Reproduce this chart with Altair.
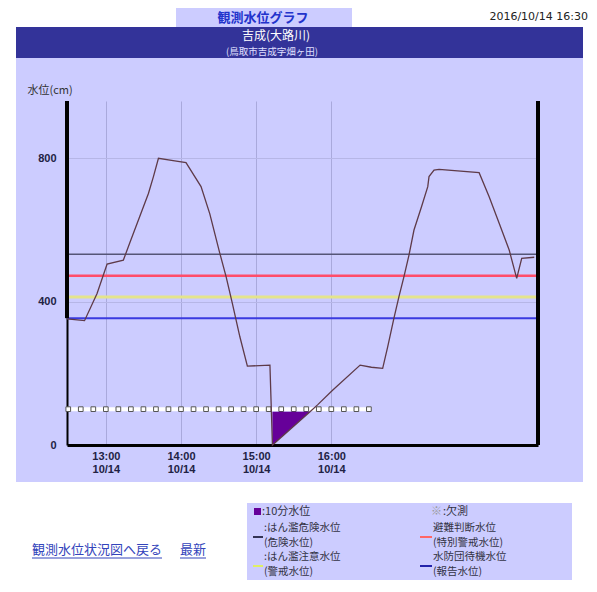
import altair as alt
import pandas as pd

DAY = "2016-10-14T"

# ---- water level series (time, cm) ----
level_times = ["12:29", "12:43", "12:53", "13:01", "13:14", "13:19", "13:27", "13:34", "13:38",
               "13:42", "13:55", "14:04", "14:16", "14:23", "14:31", "14:36", "14:41", "14:47",
               "14:53", "15:11", "15:13", "15:43", "15:49", "16:01", "16:23", "16:32", "16:41",
               "16:45", "16:50", "16:54", "16:58", "17:02", "17:06", "17:12", "17:17", "17:18",
               "17:22", "17:26", "17:58", "18:06", "18:14", "18:22", "18:28", "18:32", "18:42"]
level_values = [352, 347, 423, 505, 516, 563, 637, 702, 749,
                800, 793, 788, 721, 645, 535, 470, 395, 302,
                220, 223, 0, 93, 112, 153, 223, 217, 214,
                274, 354, 414, 470, 530, 600, 665, 721, 749,
                767, 769, 760, 693, 619, 544, 465, 521, 524]

# ---- 10-minute level fill (purple) ----
fill_times = ["15:13", "15:43"]
fill_low = [0, 93]
fill_high = [93, 93]

# ---- missing-data markers (欠測) ----
missing_level = 100
missing_times = ["12:30", "12:40", "12:50", "13:00", "13:10", "13:20", "13:30", "13:40", "13:50",
                 "14:00", "14:10", "14:20", "14:30", "14:40", "14:50", "15:00", "15:10", "15:20",
                 "15:30", "15:40", "15:50", "16:00", "16:10", "16:20", "16:30"]
missing_span = ["12:29", "16:31"]

# ---- threshold levels ----
thr_names = ["はん濫危険水位", "避難判断水位", "はん濫注意水位", "水防団待機水位"]
thr_alias = ["(危険水位)", "(特別警戒水位)", "(警戒水位)", "(報告水位)"]
thr_values = [532, 472, 413, 354]
thr_colors = ["#555577", "#ff4d6a", "#e4e48c", "#3a3ae0"]
thr_widths = [1.5, 2.5, 3, 2]
legend_colors = ["#333355", "#ff6666", "#dfef66", "#2222aa"]

tick_hours = [13, 14, 15, 16]
y_ticks = [0, 400, 800]
y_max = 960
x_start = "12:29"
x_end = "18:45"

JP = "Noto Sans CJK JP"
LAT = "Liberation Sans"


def dt(hm):
    h, m = hm.split(":")
    return alt.DateTime(year=2016, month=10, date=14, hours=int(h), minutes=int(m))


x_scale = alt.Scale(domain=[dt(x_start), dt(x_end)])
y_scale = alt.Scale(domain=[0, y_max], nice=False)

x_axis = alt.Axis(
    values=[dt(f"{h}:00") for h in tick_hours],
    labelExpr="[timeFormat(datum.value, '%H:%M'), timeFormat(datum.value, '%m/%d')]",
    title=None, grid=True, gridColor="#a9a9dc", gridWidth=1,
    domainColor="#000000", domainWidth=3, ticks=False, labelPadding=5,
    labelFont=LAT, labelFontSize=11, labelFontWeight="bold", labelColor="#222244",
    labelLineHeight=13, labelBaseline="top",
)
y_axis = alt.Axis(
    values=y_ticks, title="水位(cm)", titleAngle=0, titleAlign="left", titleBaseline="middle",
    titleX=-40, titleY=-11, titleFont=JP, titleFontSize=11, titleFontWeight="normal",
    titleColor="#333333",
    grid=True, gridColor="#b6b6e6", gridWidth=1,
    domainColor="#000000", domainWidth=2, ticks=False, labelPadding=11,
    labelFont=LAT, labelFontSize=11, labelFontWeight="bold", labelColor="#222244",
)


def X(field="t"):
    return alt.X(f"{field}:T", scale=x_scale, axis=x_axis)


def Y(field="v"):
    return alt.Y(f"{field}:Q", scale=y_scale, axis=y_axis)


level_df = pd.DataFrame({"t": [DAY + t for t in level_times], "v": level_values})
fill_df = pd.DataFrame({"t": [DAY + t for t in fill_times], "v": fill_low, "v2": fill_high})
miss_df = pd.DataFrame({"t": [DAY + t for t in missing_times], "v": [missing_level] * len(missing_times)})
span_df = pd.DataFrame({"t": [DAY + missing_span[0]], "t2": [DAY + missing_span[1]], "v": [missing_level]})
thr_df = pd.DataFrame({"name": thr_names, "v": thr_values, "c": thr_colors, "w": thr_widths})
edge_df = pd.DataFrame({"t": [DAY + x_start, DAY + x_end], "v": [thr_values[3], 0], "v2": [y_max, y_max],
                        "w": [4, 4]})

one = pd.DataFrame({"a": [0]})


def box(x1, x2, y1, y2, color):
    return alt.Chart(one).mark_rect(color=color).encode(
        x=alt.value(x1), x2=alt.value(x2), y=alt.value(y1), y2=alt.value(y2))


def label(txt, x, y, size=11.5, color="#333344", font=JP, align="left", weight="normal",
          baseline="middle", line_height=12):
    return alt.Chart(one).mark_text(
        text=txt, font=font, fontSize=size, color=color, align=align,
        baseline=baseline, fontWeight=weight, lineHeight=line_height).encode(
        x=alt.value(x), y=alt.value(y))


def hline(x1, x2, y, color, w=2):
    return alt.Chart(one).mark_rule(color=color, strokeWidth=w).encode(
        x=alt.value(x1), x2=alt.value(x2), y=alt.value(y))


# ---- decorations (page frame) ----
deco = [
    box(-59, 522, -93, -74, "#ffffff"),
    box(-59, -51, -93, 480, "#ffffff"),
    box(516, 522, -93, 480, "#ffffff"),
    box(-59, 522, 381, 480, "#ffffff"),
    box(109, 285, -93, -74, "#ccccff"),
    box(-51, 516, -74, -43, "#333399"),
    label("観測水位グラフ", 196, -83.5, size=13, color="#2233cc", align="center", weight="bold"),
    label("2016/10/14 16:30", 521, -84, size=11, color="#222222", font="DejaVu Sans", align="right"),
    label("吉成(大路川)", 209, -65, size=12, color="#ffffff", align="center"),
    label("(鳥取市吉成字畑ヶ田)", 205, -49, size=9.5, color="#e0e0ff", align="center"),
    # links
    label("観測水位状況図へ戻る", -35, 449, size=13, color="#3344bb"),
    hline(-35, 95, 457, "#3344bb", 1),
    label("最新", 113, 449, size=13, color="#3344bb"),
    hline(113, 139, 457, "#3344bb", 1),
    # legend box
    box(180, 505, 402, 480, "#ccccff"),
    box(187, 194, 407, 414, "#660099"),
    label(":10分水位", 195, 411, size=11),
    label("※", 364, 411, size=11, color="#999999"),
    label(":欠測", 376, 411, size=11),
]

legend_pos = [(186, 197, 422), (353, 366, 422), (186, 197, 451), (353, 366, 451)]
for i, (lx, tx, ty) in enumerate(legend_pos):
    prefix = ":" if lx == 186 else ""
    deco.append(hline(lx, lx + (10 if lx == 186 else 12), ty + 14, legend_colors[i], 2))
    deco.append(label([prefix + thr_names[i], thr_alias[i]], tx, ty, size=10.5, baseline="top",
                      line_height=14.5))

# ---- data layers ----
thr = alt.Chart(thr_df).mark_rule().encode(
    y=Y("v"),
    color=alt.Color("c:N", scale=None, legend=None),
    strokeWidth=alt.StrokeWidth("w:Q", scale=None, legend=None),
)
band = alt.Chart(span_df).mark_rule(color="#ffffff", strokeWidth=4).encode(
    x=X("t"), x2="t2", y=Y("v"))
squares = alt.Chart(miss_df).mark_square(size=22, fill="#ffffff", stroke="#555555",
                                          strokeWidth=1, opacity=1).encode(x=X("t"), y=Y("v"))
fill = alt.Chart(fill_df).mark_area(color="#660099", opacity=1).encode(
    x=X("t"), y=Y("v"), y2="v2")
line = alt.Chart(level_df).mark_line(color="#5e3a48", strokeWidth=1.3).encode(
    x=X("t"), y=Y("v"))
edges = alt.Chart(edge_df).mark_rule(color="#000000").encode(
    x=X("t"), y=Y("v"), y2="v2", strokeWidth=alt.StrokeWidth("w:Q", scale=None, legend=None))

chart = alt.layer(*deco, thr, band, squares, fill, line, edges).properties(
    width=471, height=344,
    background="#ccccff",
    padding={"left": 59, "top": 93, "right": 51, "bottom": 135},
    autosize=alt.AutoSizeParams(type="none"),
).configure_view(stroke=None)

chart.save("out.html", embed_options={"renderer": "svg", "actions": False})
